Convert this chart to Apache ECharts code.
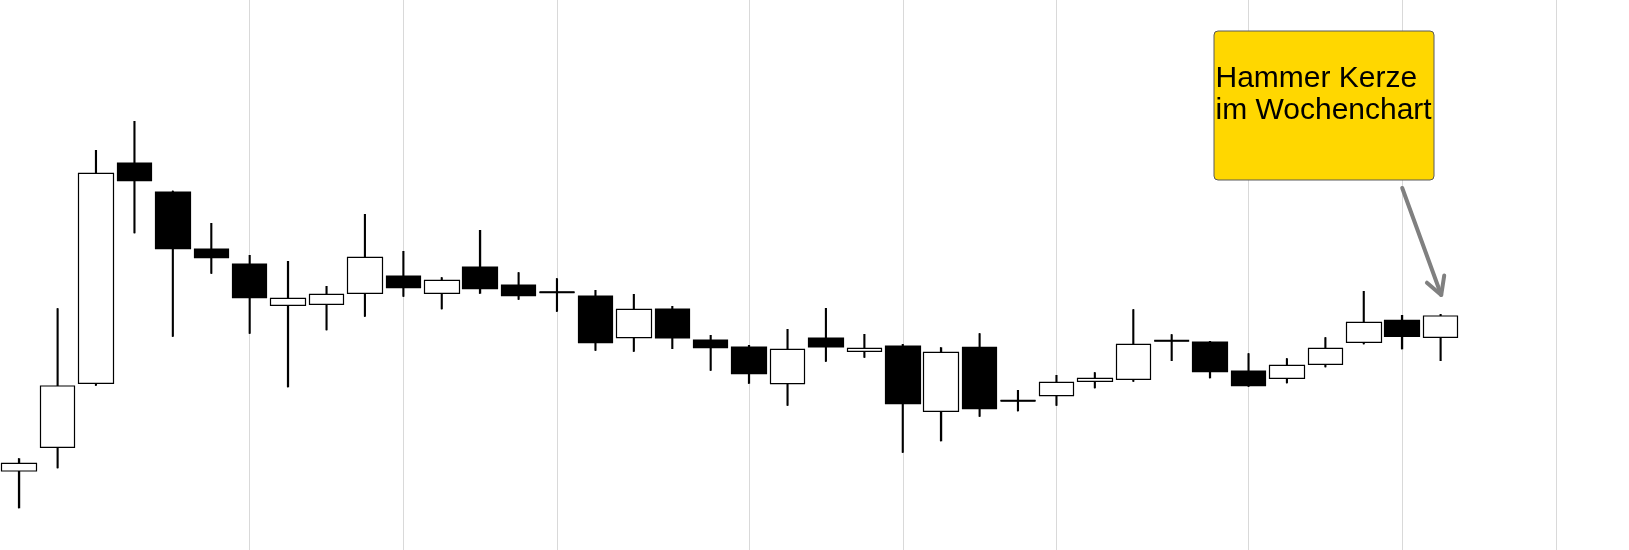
<!DOCTYPE html>
<html>
<head>
<meta charset="utf-8">
<style>
  html, body { margin: 0; padding: 0; background: #ffffff; }
  #chart { width: 1629px; height: 550px; }
</style>
<script src="https://cdn.jsdelivr.net/npm/echarts@6/dist/echarts.min.js"></script>
</head>
<body>
<div id="chart"></div>
<script>
// ---- data (weekly candles) ----
const weekCount = 42;
const categories = Array.from({ length: weekCount }, (_, i) => 'W' + (i + 1));
const opens  = [7.90,10.27,16.67,38.70,35.80,30.10,28.60,24.47,24.57,25.67,27.40,25.67,28.30,26.50,25.77,25.40,21.23,24.10,21.00,20.30,16.63,21.20,19.87,20.40,13.87,20.27,14.93,15.43,16.87,17.07,20.93,20.80,17.90,17.17,18.57,20.77,22.97,21.27];
const closes = [8.67,16.40,37.67,36.93,30.13,29.23,25.23,25.17,25.57,29.27,26.23,26.97,26.13,25.43,25.77,20.73,24.07,21.20,20.23,17.63,20.07,20.30,20.17,14.63,19.77,14.13,14.93,16.77,17.17,20.57,20.93,17.83,16.43,18.47,20.17,22.77,21.37,23.40];
const lows   = [4.17,8.17,16.43,31.67,21.33,27.63,21.63,16.27,21.97,23.33,25.33,24.07,25.63,25.03,23.83,19.93,19.83,20.10,17.93,16.63,14.43,18.83,19.23,9.73,10.87,13.33,13.87,14.43,16.17,16.83,18.90,17.17,16.33,16.67,18.27,20.57,20.07,18.90];
const highs  = [9.17,24.17,40.00,42.90,35.93,32.70,29.50,28.90,26.40,33.60,29.90,27.27,32.00,27.77,27.17,26.00,25.60,24.40,21.50,20.50,22.10,24.20,21.60,20.60,20.27,21.67,16.00,17.50,17.77,24.07,21.57,20.90,19.67,19.17,21.27,25.90,23.50,23.60];
const monthStarts = [6, 10, 14, 19, 23, 27, 32, 36, 40];
const annotationText = 'Hammer Kerze\nim Wochenchart';
const annotatedIndex = 37;

const candleData = opens.map((o, i) => [o, closes[i], lows[i], highs[i]]);
const wickData = lows.map((l, i) => [i, l, highs[i], opens[i], closes[i]]);

const chart = echarts.init(document.getElementById('chart'), null, { renderer: 'canvas' });

chart.setOption({
  animation: false,
  backgroundColor: '#ffffff',
  grid: { left: -1.4, right: 15.5, top: 0, bottom: 0, containLabel: false },
  xAxis: {
    type: 'category',
    data: categories,
    boundaryGap: true,
    axisLine: { show: false },
    axisTick: { show: false },
    axisLabel: { show: false },
    splitLine: { show: false }
  },
  yAxis: {
    type: 'value',
    min: 0,
    max: 55,
    axisLine: { show: false },
    axisTick: { show: false },
    axisLabel: { show: false },
    splitLine: { show: false }
  },
  series: [
    {
      type: 'custom',
      z: 1.5,
      silent: true,
      data: wickData,
      encode: { x: 0, y: [1, 2] },
      renderItem: function (params, api) {
        const lo = api.coord([api.value(0), api.value(1)]);
        const hi = api.coord([api.value(0), api.value(2)]);
        const children = [{
          type: 'line',
          shape: { x1: lo[0], y1: lo[1], x2: hi[0], y2: hi[1] },
          style: { stroke: '#000000', lineWidth: 2 }
        }];
        if (api.value(3) === api.value(4)) {
          const mid = api.coord([api.value(0), api.value(3)]);
          const half = api.size([1, 0])[0] * 0.455;
          children.push({
            type: 'line',
            shape: { x1: mid[0] - half, y1: mid[1], x2: mid[0] + half, y2: mid[1] },
            style: { stroke: '#000000', lineWidth: 2 }
          });
        }
        return { type: 'group', children: children };
      }
    },
    {
      type: 'candlestick',
      data: candleData,
      barWidth: 35,
      z: 2,
      itemStyle: {
        color: '#ffffff',
        color0: '#000000',
        borderColor: '#000000',
        borderColor0: '#000000',
        borderColorDoji: '#000000',
        borderWidth: 1.2
      },
      markLine: {
        silent: true,
        z: 1,
        symbol: ['none', 'none'],
        label: { show: false },
        lineStyle: { color: '#d9d9d9', width: 1, type: 'solid' },
        emphasis: { disabled: true },
        data: monthStarts.map(i => ({ xAxis: categories[i] }))
      }
    }
  ]
});

// annotation box + arrow
const tip = chart.convertToPixel({ seriesIndex: 1 }, [annotatedIndex, highs[annotatedIndex]]);
const tipX = tip[0] + 0.6;
const tipY = tip[1] - 19;

chart.setOption({
  graphic: [
    {
      type: 'rect',
      z: 100,
      shape: { x: 1214, y: 31, width: 220, height: 149, r: 4 },
      style: { fill: '#FFD700', stroke: '#5a5a5a', lineWidth: 1 }
    },
    {
      type: 'text',
      z: 101,
      x: 1215.5,
      y: 62.5,
      style: {
        text: annotationText,
        font: '30px "Liberation Sans", Arial, sans-serif',
        lineHeight: 32,
        fill: '#000000',
        align: 'left',
        verticalAlign: 'top'
      }
    },
    {
      type: 'polyline',
      z: 102,
      shape: { points: [[tipX - 39, tipY - 107], [tipX, tipY]] },
      style: { stroke: '#808080', lineWidth: 4, lineCap: 'round', fill: null }
    },
    {
      type: 'polyline',
      z: 102,
      shape: { points: [[tipX - 14.3, tipY - 12.3], [tipX, tipY], [tipX + 3, tipY - 19.5]] },
      style: { stroke: '#808080', lineWidth: 4, lineCap: 'round', lineJoin: 'round', fill: null }
    }
  ]
});
</script>
</body>
</html>
